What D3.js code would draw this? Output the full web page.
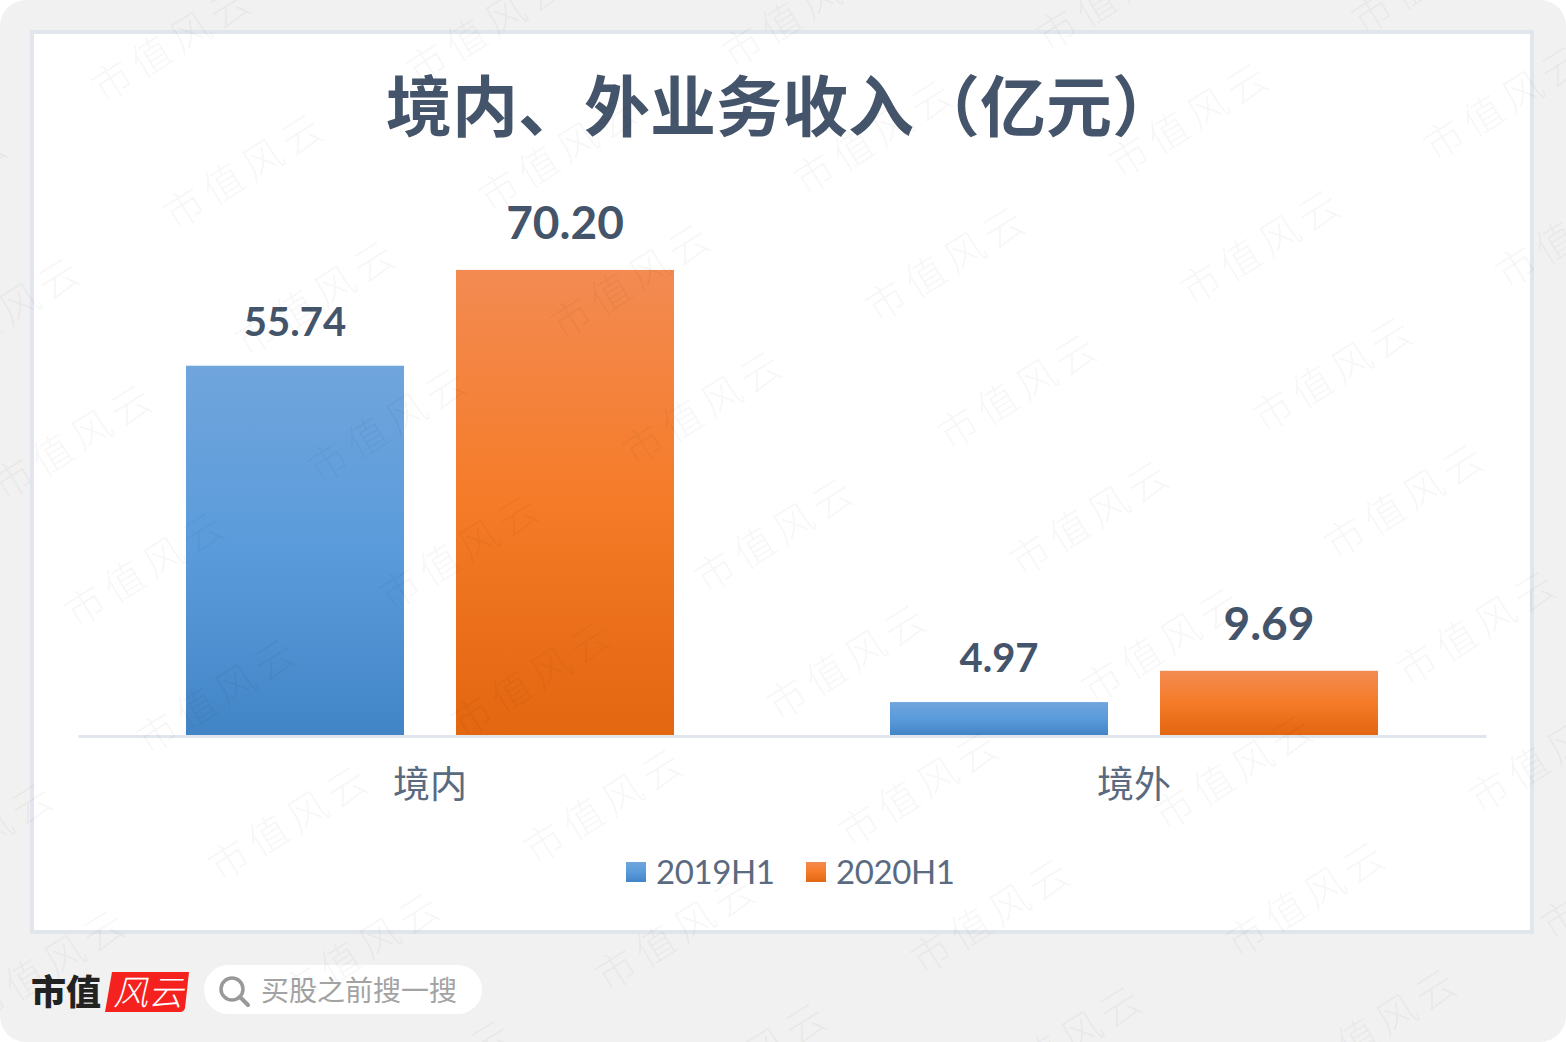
<!DOCTYPE html>
<html>
<head>
<meta charset="utf-8">
<script src="https://cdn.jsdelivr.net/npm/d3@7"></script>
<style>
html,body{margin:0;padding:0;background:#fff;overflow:hidden}
svg{display:block}
</style>
</head>
<body>
<svg id="chart" width="1566" height="1042"></svg>
<script>
const categories = ["境内", "境外"];
const seriesNames = ["2019H1", "2020H1"];
const values2019H1 = [55.74, 4.97];
const values2020H1 = [70.20, 9.69];
const titleText = "境内、外业务收入（亿元）";
const searchText = "买股之前搜一搜";
const brandText = "市值";
const brandMark = "风云";
const stampText = "市值风云";

const cjk = '"Noto Sans CJK SC","Noto Sans",sans-serif';
const latin = 'Lato,"Noto Sans",sans-serif';
const ink = "#44546a";

const svg = d3.select("#chart");
const defs = svg.append("defs");

// Vertical fills, lighter at the top of each bar
const fills = [
  {id: "fill2019", stops: ["#70a5dc", "#5a9bdb", "#4285c6"]},
  {id: "fill2020", stops: ["#f38b52", "#f57b28", "#e36610"]}
];
fills.forEach(f => {
  const g = defs.append("linearGradient").attr("id", f.id)
    .attr("x1", 0).attr("y1", 0).attr("x2", 0).attr("y2", 1);
  f.stops.forEach((c, i) => g.append("stop").attr("offset", i / 2).attr("stop-color", c));
});

// Page and chart panel
svg.append("rect").attr("width", 1566).attr("height", 1042).attr("rx", 26).attr("fill", "#f1f1f1");
svg.append("rect").attr("x", 32).attr("y", 32).attr("width", 1500).attr("height", 900)
  .attr("fill", "#fff").attr("stroke", "#e1e6ec").attr("stroke-width", 4);

svg.append("text").attr("x", 386).attr("y", 131)
  .attr("font-family", cjk).attr("font-size", 66).attr("font-weight", 700)
  .attr("fill", ink).text(titleText);

// Scales
const plotLeft = 78, plotRight = 1486, baseline = 735;
const x0 = d3.scaleBand().domain(categories).range([plotLeft, plotRight]);
const x1 = d3.scaleBand().domain(seriesNames).range([0, x0.bandwidth()])
  .paddingInner(52 / 270).paddingOuter(0.4);
const y = d3.scaleLinear().domain([0, 80]).range([baseline, baseline - 530]);

const rows = [
  {name: seriesNames[0], values: values2019H1, fill: "url(#fill2019)", labelSize: 40, labelGap: 30},
  {name: seriesNames[1], values: values2020H1, fill: "url(#fill2020)", labelSize: 46, labelGap: 31}
];

// Bars and value labels
rows.forEach(row => {
  const g = svg.append("g");
  g.selectAll("rect").data(row.values).join("rect")
    .attr("x", (d, i) => x0(categories[i]) + x1(row.name))
    .attr("y", d => y(d))
    .attr("width", x1.bandwidth())
    .attr("height", d => baseline - y(d))
    .attr("fill", row.fill);
  g.selectAll("text").data(row.values).join("text")
    .attr("x", (d, i) => x0(categories[i]) + x1(row.name) + x1.bandwidth() / 2)
    .attr("y", d => y(d) - row.labelGap)
    .attr("text-anchor", "middle")
    .attr("font-family", latin).attr("font-weight", 700)
    .attr("font-size", row.labelSize).attr("fill", ink)
    .text(d => d.toFixed(2));
});

// Category axis
const axis = svg.append("g").attr("transform", `translate(0,${baseline + 1})`)
  .call(d3.axisBottom(x0).tickSize(0).tickPadding(36));
axis.select(".domain").attr("stroke", "#e1e6ec").attr("stroke-width", 3);
axis.selectAll("text").attr("font-family", cjk).attr("font-size", 37).attr("fill", "#5a6a80");

// Legend
const legendX = d3.scalePoint().domain(seriesNames).range([626, 806]);
const legend = svg.selectAll("g.key").data(rows).join("g").attr("class", "key")
  .attr("transform", d => `translate(${legendX(d.name)},862)`);
legend.append("rect").attr("width", 20).attr("height", 20).attr("fill", d => d.fill);
legend.append("text").attr("x", 30).attr("y", 22)
  .attr("font-family", latin).attr("font-size", 33).attr("letter-spacing", -0.4).attr("fill", "#5a6a80")
  .text(d => d.name);

// Brand strip
svg.append("text").attr("x", 31).attr("y", 1005)
  .attr("font-family", '"Noto Sans CJK SC",serif').attr("font-weight", 900)
  .attr("font-size", 35).attr("fill", "#222").text(brandText);
svg.append("path").attr("d", "M112 972 H189 L185 1008 Q184 1012 180 1012 H105 Z").attr("fill", "#f5211f");
svg.append("text").attr("x", 113).attr("y", 1005)
  .attr("font-family", cjk).attr("font-style", "italic").attr("font-weight", 300)
  .attr("font-size", 35).attr("fill", "#fff").text(brandMark);

svg.append("rect").attr("x", 204).attr("y", 965).attr("width", 278).attr("height", 49)
  .attr("rx", 24.5).attr("fill", "#fff");
svg.append("circle").attr("cx", 232).attr("cy", 989).attr("r", 11)
  .attr("fill", "none").attr("stroke", "#999").attr("stroke-width", 3.5);
svg.append("line").attr("x1", 240).attr("y1", 997).attr("x2", 248).attr("y2", 1005)
  .attr("stroke", "#999").attr("stroke-width", 4).attr("stroke-linecap", "round");
svg.append("text").attr("x", 261).attr("y", 1001)
  .attr("font-family", cjk).attr("font-size", 28).attr("fill", "#a3a3a3").text(searchText);

// Repeating diagonal stamp across the whole sheet
const stamps = svg.append("g").attr("pointer-events", "none");
for (let j = -3; j <= 8; j++) {
  for (let i = -3; i <= 6; i++) {
    const px = 175 + i * 315 + j * 72;
    const py = 231 + i * -17 + j * 127;
    if (px < -200 || px > 1600 || py < -20 || py > 1140) continue;
    stamps.append("text")
      .attr("transform", `translate(${px},${py}) rotate(-32)`)
      .attr("font-family", cjk).attr("font-weight", 200)
      .attr("font-size", 40).attr("letter-spacing", 6)
      .attr("fill", "#000").attr("fill-opacity", 0.05)
      .text(stampText);
  }
}
</script>
</body>
</html>
